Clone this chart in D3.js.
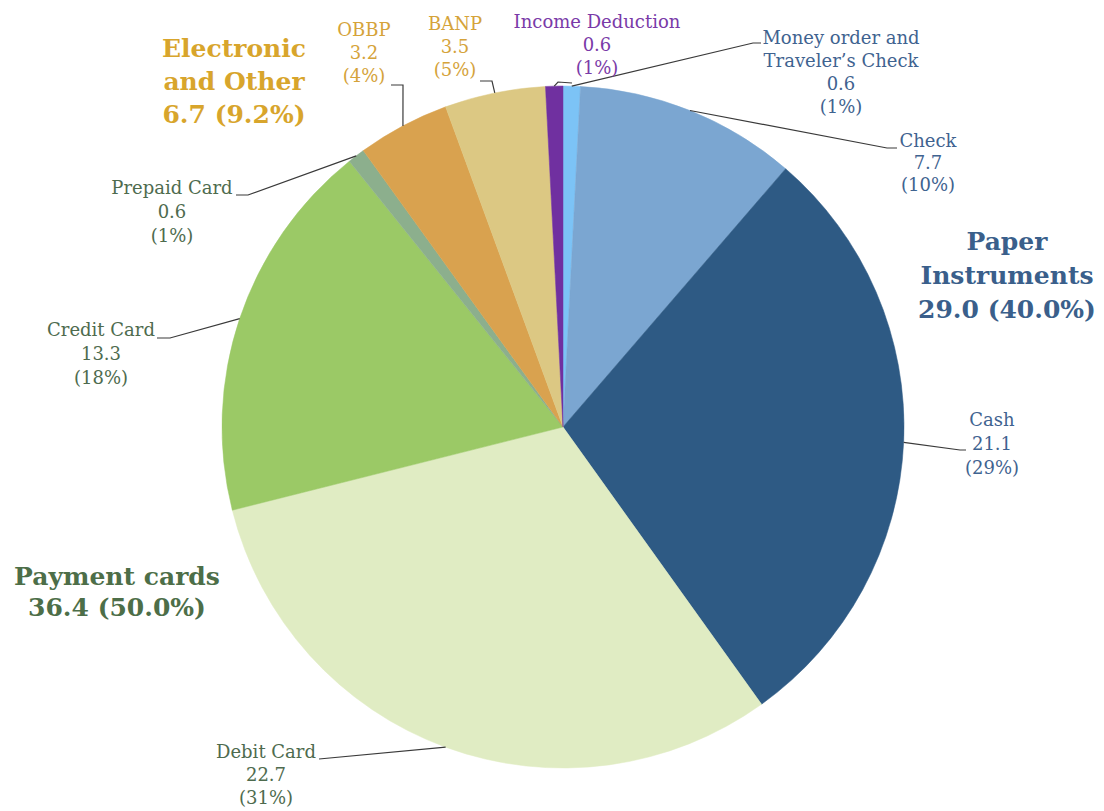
<!DOCTYPE html>
<html>
<head>
<meta charset="utf-8">
<script src="https://cdn.jsdelivr.net/npm/d3@7"></script>
<style>
  html, body { margin: 0; padding: 0; background: #ffffff; }
  svg { display: block; }
  text { font-family: "DejaVu Serif", Georgia, serif; }
</style>
</head>
<body>
<svg id="chart" width="1104" height="811"></svg>
<script>
// Payment instrument usage, slices clockwise from 12 o'clock
const categories = ["Money order and Traveler\u2019s Check", "Check", "Cash", "Debit Card", "Credit Card", "Prepaid Card", "OBBP", "BANP", "Income Deduction"];
const values = [0.6, 7.7, 21.1, 22.7, 13.3, 0.6, 3.2, 3.5, 0.6];
const shares = ["1%", "10%", "29%", "31%", "18%", "1%", "4%", "5%", "1%"];
const sliceColors = ["#7cc3f6", "#7ba6d1", "#2e5a84", "#e0ecc3", "#9bc966", "#8caf8d", "#d9a24f", "#dcc883", "#7030a0"];

// Group totals
const groupNames = [["Paper", "Instruments"], ["Payment cards"], ["Electronic", "and Other"]];
const groupValues = [29.0, 36.4, 6.7];
const groupShares = ["40.0%", "50.0%", "9.2%"];

const svg = d3.select("#chart");
const cx = 563, cy = 427, R = 341;

const pie = d3.pie().sort(null).value(d => d);
const arcs = pie(values);
const arc = d3.arc().innerRadius(0).outerRadius(R);

const g = svg.append("g").attr("transform", `translate(${cx},${cy})`);
g.selectAll("path.slice")
  .data(arcs)
  .join("path")
  .attr("class", "slice")
  .attr("d", arc)
  .attr("fill", (d, i) => sliceColors[i])
  .attr("stroke", (d, i) => sliceColors[i])
  .attr("stroke-width", 0.5);

// Label layout for each slice
const blue = "#3f6390", green = "#4e6b4e", gold = "#d5a33a", purple = "#7a3aa8";
const labelLayout = [
  { x: 841, y: 44, lh: 23, color: blue, lines: ["Money order and", "Traveler\u2019s Check"], path: [[753, 43], [761, 43]] },
  { x: 928, y: 147, lh: 22, color: blue, lines: ["Check"], path: [[887, 148], [897, 148]] },
  { x: 992, y: 426, lh: 24, color: blue, lines: ["Cash"], path: [[960, 450], [966, 450]] },
  { x: 266, y: 758, lh: 23, color: green, lines: ["Debit Card"], path: [[319, 759]] },
  { x: 101, y: 336, lh: 24, color: green, lines: ["Credit Card"], path: [[170, 338], [157, 338]] },
  { x: 172, y: 194, lh: 24, color: green, lines: ["Prepaid Card"], path: [[248, 195], [236, 195]] },
  { x: 364, y: 36, lh: 23, color: gold, lines: ["OBBP"], path: [[403, 85], [391, 85]] },
  { x: 455, y: 30, lh: 23, color: gold, lines: ["BANP"], path: [[492, 81], [480, 81]] },
  { x: 597, y: 28, lh: 23, color: purple, lines: ["Income Deduction"], path: [[558, 82], [572, 83]] }
];

// Leader lines start on the rim at each slice's mid angle
const rimPoint = d => {
  const a = (d.startAngle + d.endAngle) / 2;
  return [cx + R * Math.sin(a), cy - R * Math.cos(a)];
};

const line = d3.line();
svg.append("g").selectAll("path.leader")
  .data(arcs)
  .join("path")
  .attr("class", "leader")
  .attr("d", (d, i) => line([rimPoint(d), ...labelLayout[i].path]))
  .attr("fill", "none")
  .attr("stroke", "#3a3a3a")
  .attr("stroke-width", 1.2);

const labels = svg.append("g");
arcs.forEach((d, i) => {
  const L = labelLayout[i];
  const rows = [...L.lines, d3.format(".1f")(values[i]), `(${shares[i]})`];
  const t = labels.append("text")
    .attr("text-anchor", "middle")
    .attr("fill", L.color)
    .attr("font-size", 18);
  rows.forEach((r, k) => {
    t.append("tspan").attr("x", L.x).attr("y", L.y + k * L.lh).text(r);
  });
});

// Group headline labels
const groupLayout = [
  { x: 1007, y: 250, lh: 34, color: "#3a5f8b" },
  { x: 117, y: 585, lh: 31, color: "#4d6e48" },
  { x: 234, y: 57, lh: 33, color: "#d8a52c" }
];
groupNames.forEach((names, i) => {
  const L = groupLayout[i];
  const rows = [...names, `${d3.format(".1f")(groupValues[i])} (${groupShares[i]})`];
  const t = svg.append("text")
    .attr("text-anchor", "middle")
    .attr("fill", L.color)
    .attr("font-weight", "bold")
    .attr("font-size", 25);
  rows.forEach((r, k) => {
    t.append("tspan").attr("x", L.x).attr("y", L.y + k * L.lh).text(r);
  });
});
</script>
</body>
</html>
